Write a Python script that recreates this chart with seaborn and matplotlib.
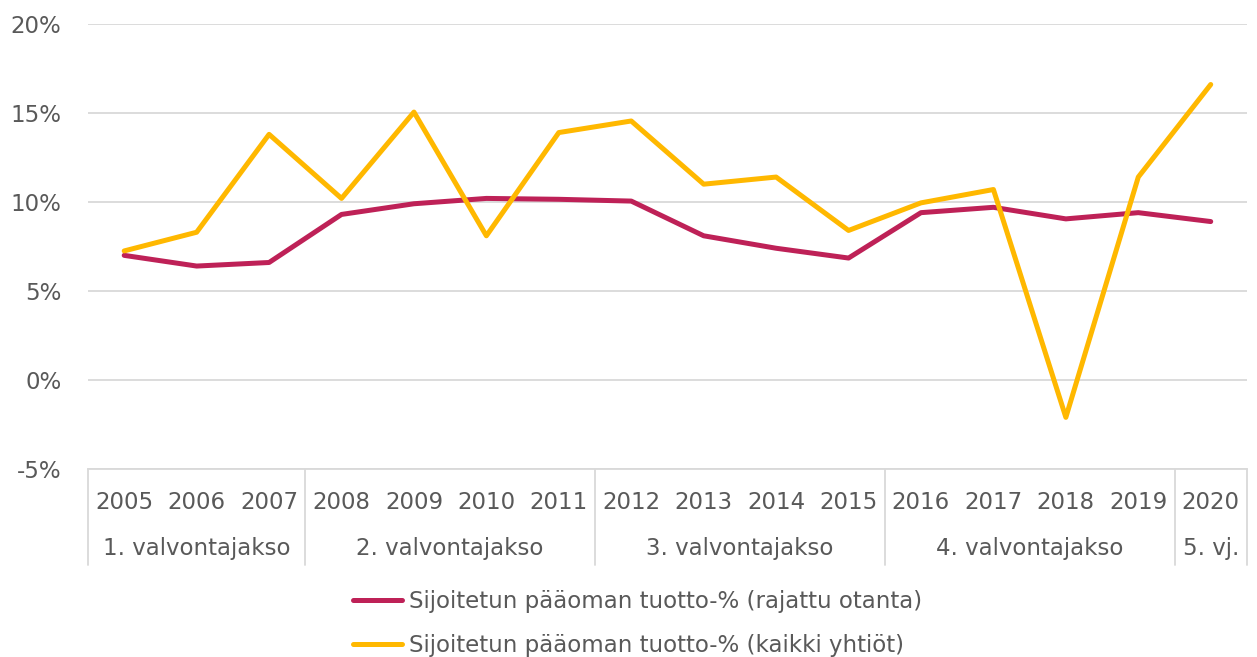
import matplotlib.pyplot as plt
import seaborn as sns
import pandas as pd

# data
vuodet = ['2005', '2006', '2007', '2008', '2009', '2010', '2011', '2012',
          '2013', '2014', '2015', '2016', '2017', '2018', '2019', '2020']
rajattu = [7.0, 6.4, 6.6, 9.3, 9.9, 10.2, 10.15, 10.05,
           8.1, 7.4, 6.85, 9.4, 9.7, 9.05, 9.4, 8.9]
kaikki = [7.25, 8.3, 13.8, 10.2, 15.05, 8.1, 13.9, 14.55,
          11.0, 11.4, 8.4, 9.95, 10.7, -2.1, 11.4, 16.6]
jaksot = ['1. valvontajakso', '2. valvontajakso', '3. valvontajakso',
          '4. valvontajakso', '5. vj.']
jakson_pituus = [3, 4, 4, 4, 1]
sarjat = ['Sijoitetun pääoman tuotto-% (rajattu otanta)',
          'Sijoitetun pääoman tuotto-% (kaikki yhtiöt)']
varit = ['#BE2157', '#FFB800']

df = pd.DataFrame({
    'x': list(range(len(vuodet))) * 2,
    'arvo': rajattu + kaikki,
    'sarja': [sarjat[0]] * len(vuodet) + [sarjat[1]] * len(vuodet),
})

sns.set_style('white')
plt.rcParams['font.family'] = ['DejaVu Sans']
harmaa = '#595959'
fs = 16.5

fig = plt.figure(figsize=(12.57, 6.57), dpi=100)
ax = fig.add_axes([0.070, 0.2862, 0.922, 0.6773])

sns.lineplot(data=df, x='x', y='arvo', hue='sarja', palette=varit,
             linewidth=3.6, ax=ax, legend=True)

ax.set_xlim(-0.5, len(vuodet) - 0.5)
ax.set_ylim(-5, 20)
ax.set_yticks([-5, 0, 5, 10, 15, 20])
ax.set_yticklabels([f'{v}%' for v in [-5, 0, 5, 10, 15, 20]],
                   color=harmaa, fontsize=fs)
ax.tick_params(axis='y', length=0, pad=19)
ax.yaxis.grid(True, color='#D9D9D9', linewidth=1.3)
ax.set_axisbelow(True)
for s in ['top', 'right', 'left']:
    ax.spines[s].set_visible(False)
ax.spines['bottom'].set_color('#D9D9D9')
ax.spines['bottom'].set_linewidth(1.3)
ax.set_xlabel('')
ax.set_ylabel('')

# two-level category axis
ax.set_xticks(range(len(vuodet)))
ax.set_xticklabels(vuodet, color=harmaa, fontsize=fs)
ax.tick_params(axis='x', length=0, pad=16)
trans = ax.get_xaxis_transform()
raja = -0.5
rajat = [raja]
for nimi, n in zip(jaksot, jakson_pituus):
    keski = raja + n / 2
    ax.text(keski, -0.178, nimi, transform=trans, ha='center', va='center',
            color=harmaa, fontsize=fs)
    raja += n
    rajat.append(raja)
for r in rajat:
    ax.plot([r, r], [0, -0.216], transform=trans, color='#D9D9D9',
            linewidth=1.3, clip_on=False)

leg = ax.legend(loc='upper center', bbox_to_anchor=(0.474, -0.225),
                ncol=1, frameon=False, fontsize=fs, handlelength=2.15,
                handletextpad=0.3, labelspacing=0.95)
for t in leg.get_texts():
    t.set_color(harmaa)

fig.savefig('out.png', dpi=100)
